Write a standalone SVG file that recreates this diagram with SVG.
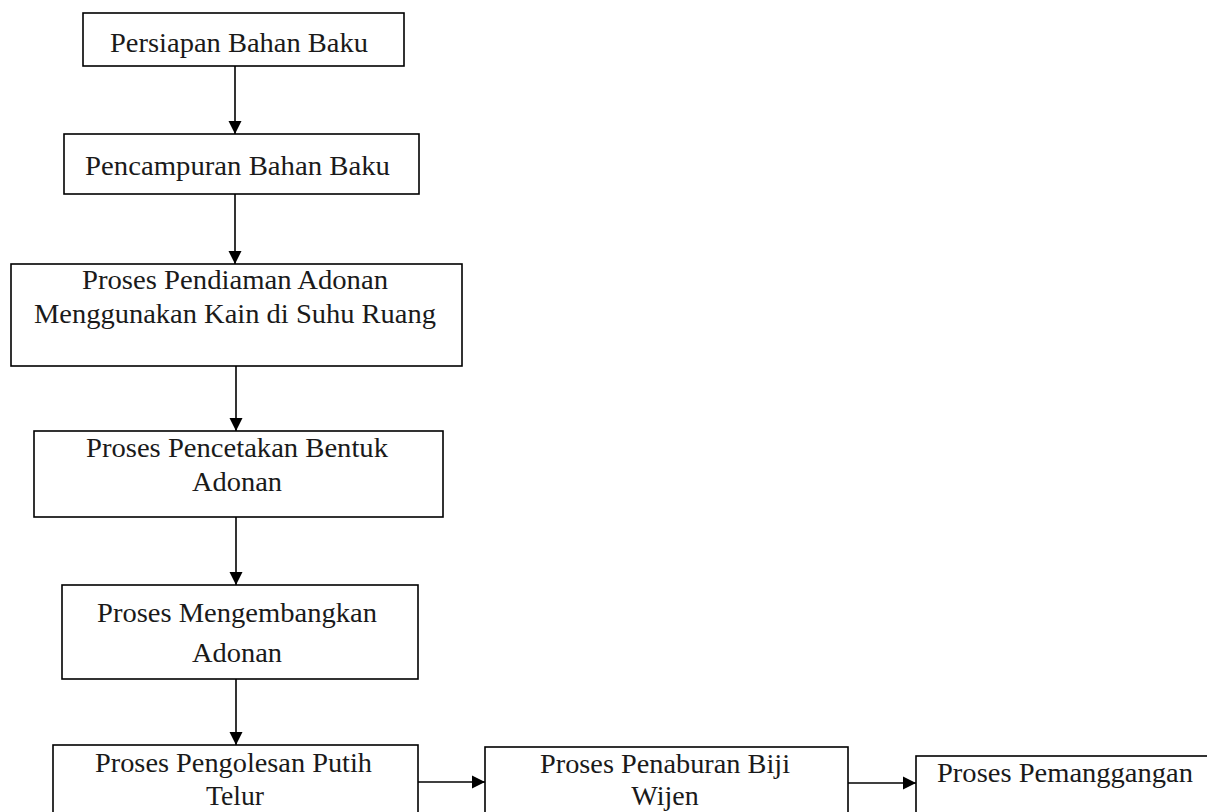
<svg xmlns="http://www.w3.org/2000/svg" width="1207" height="812" viewBox="0 0 1207 812">
<style>
.box{fill:#fff;stroke:#000;stroke-width:1.6}
.t{font-family:"Liberation Serif","Times New Roman",serif;font-size:28px;fill:#1a1a1a;text-anchor:middle}
.tl{text-anchor:start}
.c{stroke:#000;stroke-width:1.6;fill:none;marker-end:url(#ah)}
</style>
<defs>
<marker id="ah" markerWidth="14" markerHeight="14" refX="13" refY="7" orient="auto" markerUnits="userSpaceOnUse">
<path d="M0,0.5 L13,7 L0,13.5 Z" fill="#000"/>
</marker>
</defs>
<rect width="1207" height="812" fill="#fff"/>
<g id="connectors">
<line class="c" x1="235" y1="66" x2="235" y2="134"/>
<line class="c" x1="235" y1="194" x2="235" y2="264"/>
<line class="c" x1="236" y1="366" x2="236" y2="431"/>
<line class="c" x1="236" y1="517" x2="236" y2="585"/>
<line class="c" x1="236" y1="679" x2="236" y2="745"/>
<line class="c" x1="418" y1="782" x2="485" y2="782"/>
<line class="c" x1="848" y1="783" x2="916" y2="783"/>
</g>
<g id="n1">
<rect class="box" x="83" y="13" width="321" height="53"/>
<text class="t" x="239" y="52" textLength="258" lengthAdjust="spacingAndGlyphs">Persiapan Bahan Baku</text>
</g>
<g id="n2">
<rect class="box" x="64" y="134" width="355" height="60"/>
<text class="t" x="237.5" y="175" textLength="305" lengthAdjust="spacingAndGlyphs">Pencampuran Bahan Baku</text>
</g>
<g id="n3">
<rect class="box" x="11" y="264" width="451" height="102"/>
<text class="t" x="235" y="289" textLength="306" lengthAdjust="spacingAndGlyphs">Proses Pendiaman Adonan</text>
<text class="t" x="235" y="323" textLength="402" lengthAdjust="spacingAndGlyphs">Menggunakan Kain di Suhu Ruang</text>
</g>
<g id="n4">
<rect class="box" x="34" y="431" width="409" height="86"/>
<text class="t" x="237" y="457" textLength="302" lengthAdjust="spacingAndGlyphs">Proses Pencetakan Bentuk</text>
<text class="t" x="237" y="491" textLength="90" lengthAdjust="spacingAndGlyphs">Adonan</text>
</g>
<g id="n5">
<rect class="box" x="62" y="585" width="356" height="94"/>
<text class="t" x="237" y="622" textLength="280" lengthAdjust="spacingAndGlyphs">Proses Mengembangkan</text>
<text class="t" x="237" y="662" textLength="90" lengthAdjust="spacingAndGlyphs">Adonan</text>
</g>
<g id="n6">
<rect class="box" x="53" y="745" width="365" height="80"/>
<text class="t" x="233.5" y="772" textLength="277" lengthAdjust="spacingAndGlyphs">Proses Pengolesan Putih</text>
<text class="t" x="235" y="805" textLength="58" lengthAdjust="spacingAndGlyphs">Telur</text>
</g>
<g id="n7">
<rect class="box" x="485" y="747" width="363" height="80"/>
<text class="t" x="665" y="773" textLength="250" lengthAdjust="spacingAndGlyphs">Proses Penaburan Biji</text>
<text class="t" x="665" y="805">Wijen</text>
</g>
<g id="n8">
<rect class="box" x="916" y="756" width="300" height="70"/>
<text class="t tl" x="937" y="782" textLength="256" lengthAdjust="spacingAndGlyphs">Proses Pemanggangan</text>
</g>
</svg>
